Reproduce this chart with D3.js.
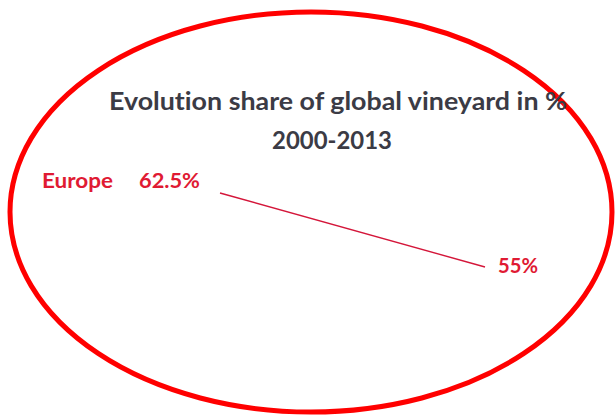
<!DOCTYPE html>
<html>
<head>
<meta charset="utf-8">
<script src="https://cdn.jsdelivr.net/npm/d3@7"></script>
<style>
  html, body { margin: 0; padding: 0; background: #fff; }
  svg { display: block; }
  text { font-variant-ligatures: none; }
</style>
</head>
<body>
<script>
// Europe's share of the world vineyard area, start and end year
const years = [2000, 2013];
const shares = [62.5, 55];
const seriesName = "Europe";
const titleLines = ["Evolution share of global vineyard in %", "2000-2013"];

const W = 616, H = 415;
const svg = d3.select("body").append("svg")
  .attr("width", W).attr("height", H);

// Red outline ellipse framing the chart
svg.append("ellipse")
  .attr("cx", 311).attr("cy", 212)
  .attr("rx", 301).attr("ry", 200)
  .attr("fill", "none")
  .attr("stroke", "#ff0000")
  .attr("stroke-width", 5);

// Title
const title = svg.append("g")
  .attr("font-family", "Lato, 'Open Sans', sans-serif")
  .attr("font-weight", "bold")
  .attr("fill", "#3b3b45");
title.append("text")
  .attr("x", 109).attr("y", 110)
  .attr("font-size", 25)
  .attr("textLength", 458).attr("lengthAdjust", "spacingAndGlyphs")
  .text(titleLines[0]);
title.append("text")
  .attr("x", 272).attr("y", 149)
  .attr("font-size", 25)
  .attr("textLength", 120).attr("lengthAdjust", "spacingAndGlyphs")
  .text(titleLines[1]);

// Scales
const x = d3.scaleLinear().domain([years[0], years[1]]).range([220, 485]);
const y = d3.scaleLinear().domain([55, 62.5]).range([267, 193]);

const data = years.map((yr, i) => ({ year: yr, share: shares[i] }));

// Trend line
svg.append("path")
  .datum(data)
  .attr("fill", "none")
  .attr("stroke", "#d4163a")
  .attr("stroke-width", 1.4)
  .attr("d", d3.line().x(d => x(d.year)).y(d => y(d.share)));

const labelColor = "#e01a33";
const labels = svg.append("g")
  .attr("font-family", "Lato, 'Open Sans', sans-serif")
  .attr("font-weight", "bold")
  .attr("font-size", 21)
  .attr("fill", labelColor);

// Series name
labels.append("text")
  .attr("x", 42).attr("y", y(data[0].share) - 5)
  .attr("textLength", 71).attr("lengthAdjust", "spacingAndGlyphs")
  .text(seriesName);

// Value labels at both ends
const fmt = v => `${v}%`;
labels.append("text")
  .attr("x", x(data[0].year) - 20).attr("y", y(data[0].share) - 5)
  .attr("text-anchor", "end")
  .attr("textLength", 61).attr("lengthAdjust", "spacingAndGlyphs")
  .text(fmt(data[0].share));
labels.append("text")
  .attr("x", x(data[1].year) + 13).attr("y", y(data[1].share) + 6)
  .attr("textLength", 40).attr("lengthAdjust", "spacingAndGlyphs")
  .text(fmt(data[1].share));
</script>
</body>
</html>
